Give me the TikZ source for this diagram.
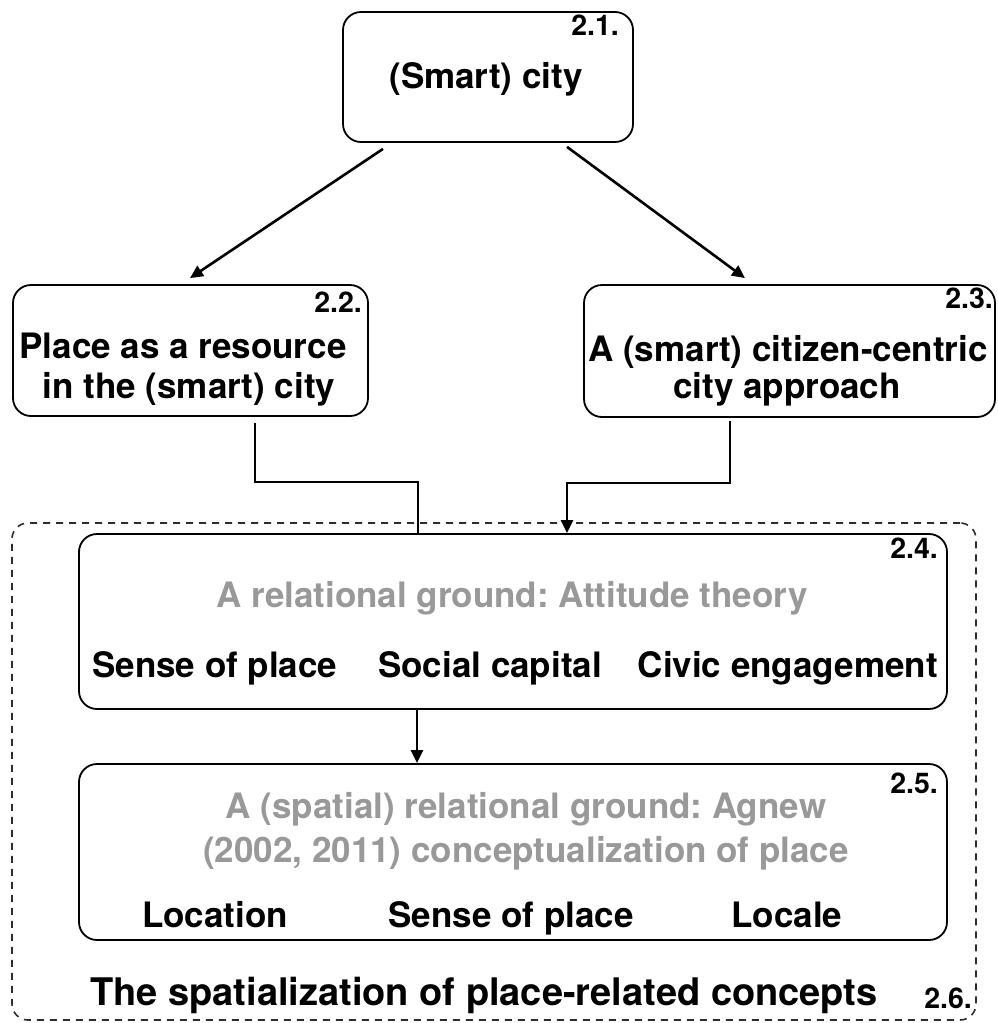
\documentclass[tikz,border=0pt]{standalone}
\usepackage{fontspec}
\setmainfont{TeX Gyre Heros}
\usetikzlibrary{arrows.meta}
\definecolor{softgray}{RGB}{153,153,153}
\definecolor{dashgray}{RGB}{45,45,45}
\frenchspacing
\begin{document}
\begin{tikzpicture}[x=1pt,y=-1pt,
  box/.style={draw, line width=1.8pt, rounded corners=18pt, inner sep=0pt},
  groupbox/.style={draw=dashgray, line width=1.6pt, dash pattern=on 7pt off 6pt, rounded corners=16pt, inner sep=0pt},
  txt/.style={font=\bfseries\fontsize{35}{42}\selectfont, inner sep=0pt, anchor=base},
  graytxt/.style={txt, text=softgray},
  num/.style={font=\bfseries\fontsize{28.5}{34}\selectfont, inner sep=0pt, anchor=base east},
  title/.style={font=\bfseries\fontsize{38}{45}\selectfont, inner sep=0pt, anchor=base west},
  link/.style={line width=2.6pt},
  arr/.style={line width=2.6pt, -{Triangle[length=13pt,width=12pt]}}
]
\useasboundingbox (0,0) rectangle (998,1023);

% group frame
\node[groupbox, minimum width=964pt, minimum height=497pt] (g26) at (494,771.5) {};

% boxes
\node[box, minimum width=290pt, minimum height=130pt] (b21) at (488,77) {};
\node[box, minimum width=355pt, minimum height=131pt] (b22) at (190.5,350.5) {};
\node[box, minimum width=411pt, minimum height=132pt] (b23) at (789.5,351) {};
\node[box, minimum width=868pt, minimum height=175pt] (b24) at (513,621.5) {};
\node[box, minimum width=868pt, minimum height=176pt] (b25) at (513,852) {};

% box 2.1
\node[num] (n21) at (619,35) {2.1.};
\node[txt] (t21) at (486,88) {(Smart) city};

% box 2.2
\node[num] (n22) at (362,312) {2.2.};
\node[txt] (t22a) at (183,358) {Place as a resource};
\node[txt] (t22b) at (189,398) {in the (smart) city};

% box 2.3
\node[num] (n23) at (993,308) {2.3.};
\node[txt] (t23a) at (788,361) {A (smart) citizen-centric};
\node[txt] (t23b) at (787,398) {city approach};

% box 2.4
\node[num] (n24) at (938,558) {2.4.};
\node[graytxt] (t24) at (512,607) {A relational ground: Attitude theory};
\node[txt, anchor=base west] (c24a) at (92,677) {Sense of place};
\node[txt, anchor=base west] (c24b) at (378,677) {Social capital};
\node[txt, anchor=base east] (c24c) at (938,677) {Civic engagement};

% box 2.5
\node[num] (n25) at (938,793) {2.5.};
\node[graytxt] (t25a) at (526,818) {A (spatial) relational ground: Agnew};
\node[graytxt] (t25b) at (526,862) {(2002, 2011) conceptualization of place};
\node[txt] (c25a) at (215,927) {Location};
\node[txt] (c25b) at (511,927) {Sense of place};
\node[txt] (c25c) at (787,927) {Locale};

% group title
\node[title] (t26) at (90,1005) {The spatialization of place-related concepts};
\node[num] (n26) at (972,1008) {2.6.};

% connectors
\draw[arr] ([xshift=-105pt,yshift=-6pt]b21.south) -- ([xshift=-0.5pt,yshift=6pt]b22.north);
\draw[arr] ([xshift=79pt,yshift=-4pt]b21.south) -- ([xshift=-44.5pt,yshift=6pt]b23.north);
\draw[link] ([xshift=64.5pt,yshift=-6pt]b22.south) -- ++(0,59) -| ([xshift=-95pt]b24.north);
\draw[arr] ([xshift=-59.5pt,yshift=-3pt]b23.south) -- ++(0,62) -| ([xshift=54pt]b24.north);
\draw[arr] ([xshift=-96pt]b24.south) -- ([xshift=-96pt]b25.north);
\end{tikzpicture}
\end{document}
